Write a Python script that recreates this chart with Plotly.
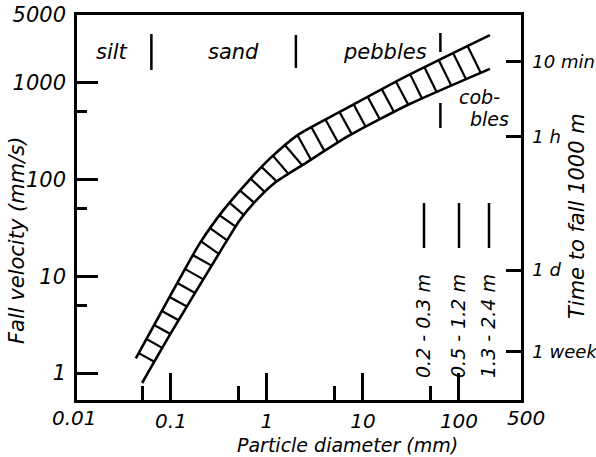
import numpy as np
import plotly.graph_objects as go

# ---------------- data ----------------
upper_diam_mm = [0.043, 0.1, 0.2, 0.35, 0.62, 1.07, 2.05, 6, 29, 210]
upper_vel_mm_s = [1.42, 6.5, 22, 48, 93, 164, 284, 510, 1180, 3100]
lower_diam_mm = [0.05, 0.1, 0.32, 0.52, 0.8, 1.2, 2.4, 7, 31, 210]
lower_vel_mm_s = [0.79, 2.6, 17.5, 38, 63, 92, 143, 280, 605, 1390]

class_names = ["silt", "sand", "pebbles"]
class_bounds_mm = [0.0625, 2, 64]

x_major = [0.1, 1, 10, 100]
x_major_text = ["0.1", "1", "10", "100"]
x_minor = [0.05, 0.5, 5, 50]
x_end_vals = [0.01, 500]
x_end_text = ["0.01", "500"]
y_major = [1, 10, 100, 1000, 5000]
y_major_text = ["1", "10", "100", "1000", "5000"]
y_minor = [5, 50, 500]

fall_distance_mm = 1.0e6
time_seconds = [604800, 86400, 3600, 600]
time_labels = ["1 week", "1 d", "1 h", "10 min"]

size_labels = ["0.2 - 0.3 m", "0.5 - 1.2 m", "1.3 - 2.4 m"]

# ---------------- layout geometry ----------------
W, H = 596, 457
L, R, T, B = 77, 75, 15, 57
PW, PH = W - L - R, H - T - B
XR = [-1.979, 2.646]
YR = [-0.278, np.log10(5000)]

FONT = "DejaVu Sans"
font = dict(family=FONT, size=21, color="black", style="italic")
font_x = dict(family=FONT, size=20, color="black", style="italic")
font_t = dict(family=FONT, size=19, color="black", style="italic")
font_r = dict(family=FONT, size=18, color="black", style="italic")
font_s = dict(family=FONT, size=19, color="black", style="italic")


def px(xp):  # pixel -> paper x
    return (xp - L) / PW


def py(yp):  # pixel -> paper y
    return (H - B - yp) / PH


def to_px(d, v):
    x = L + (np.log10(d) - XR[0]) * PW / (XR[1] - XR[0])
    y = T + (YR[1] - np.log10(v)) * PH / (YR[1] - YR[0])
    return np.array([x, y])


def from_px(p):
    ld = XR[0] + (p[0] - L) * (XR[1] - XR[0]) / PW
    lv = YR[1] - (p[1] - T) * (YR[1] - YR[0]) / PH
    return 10 ** ld, 10 ** lv


# ---------------- hatching between the two curves ----------------
up = np.array([to_px(d, v) for d, v in zip(upper_diam_mm, upper_vel_mm_s)])
lo = np.array([to_px(d, v) for d, v in zip(lower_diam_mm, lower_vel_mm_s)])

seg = np.diff(up, axis=0)
seglen = np.hypot(seg[:, 0], seg[:, 1])
cum = np.concatenate([[0], np.cumsum(seglen)])
spacing = 16.0
hx, hy = [], []
s = 6.0
while s < cum[-1] - 4:
    i = min(max(np.searchsorted(cum, s) - 1, 0), len(seg) - 1)
    t = (s - cum[i]) / seglen[i]
    P = up[i] + t * seg[i]
    tang = seg[i] / seglen[i]
    n = np.array([-tang[1], tang[0]])
    if n[0] < 0:
        n = -n
    best = None
    for j in range(len(lo) - 1):
        A, Bp = lo[j], lo[j + 1]
        M = np.array([[n[0], A[0] - Bp[0]], [n[1], A[1] - Bp[1]]])
        if abs(np.linalg.det(M)) < 1e-9:
            continue
        sol = np.linalg.solve(M, A - P)
        if 0 <= sol[1] <= 1 and sol[0] > 0:
            if best is None or sol[0] < best:
                best = sol[0]
    if best is not None:
        Q = P + best * n
        d1, v1 = from_px(P)
        d2, v2 = from_px(Q)
        hx += [d1, d2, None]
        hy += [v1, v2, None]
    s += spacing

fig = go.Figure()
fig.add_trace(go.Scatter(x=hx, y=hy, mode="lines", line=dict(color="black", width=2.2),
                         hoverinfo="skip"))
fig.add_trace(go.Scatter(x=upper_diam_mm, y=upper_vel_mm_s, mode="lines",
                         line=dict(color="black", width=2.6, shape="spline", smoothing=0.6)))
fig.add_trace(go.Scatter(x=lower_diam_mm, y=lower_vel_mm_s, mode="lines",
                         line=dict(color="black", width=2.6, shape="spline", smoothing=0.6)))
fig.add_trace(go.Scatter(x=[], y=[], yaxis="y2"))

ax_common = dict(showline=True, linecolor="black", linewidth=2.5, showgrid=False,
                 zeroline=False, tickcolor="black", tickwidth=2.5,
                 automargin=False)

fig.update_layout(
    width=W, height=H, margin=dict(l=L, r=R, t=T, b=B, autoexpand=False),
    plot_bgcolor="white", paper_bgcolor="white", showlegend=False,
    xaxis=dict(type="log", range=XR, mirror=True, ticks="inside", ticklen=27,
               tickmode="array", tickvals=x_major, ticktext=x_major_text,
               ticklabelstandoff=1, tickfont=font_x,
               minor=dict(tickmode="array", tickvals=x_minor, ticks="inside", ticklen=14,
                          tickwidth=2.5, tickcolor="black", showgrid=False),
               **ax_common),
    yaxis=dict(type="log", range=YR, ticks="inside", ticklen=21,
               tickmode="array", tickvals=y_major, ticktext=y_major_text,
               ticklabelstandoff=4, tickfont=font,
               minor=dict(tickmode="array", tickvals=y_minor, ticks="inside", ticklen=10,
                          tickwidth=2.5, tickcolor="black", showgrid=False),
               **ax_common),
    yaxis2=dict(type="log", range=YR, overlaying="y", side="right", anchor="x",
                ticks="inside", ticklen=15, tickmode="array",
                tickvals=[fall_distance_mm / t for t in time_seconds],
                ticktext=time_labels, ticklabelstandoff=5, tickfont=font_r,
                **ax_common),
)


def text_at(x, y, text, f=font, angle=0):
    return dict(x=x, y=y, xref="paper", yref="paper", text=text, showarrow=False,
                font=f, textangle=angle, xanchor="center", yanchor="middle")


ann = []
for v, tx in zip(x_end_vals, x_end_text):
    xpaper = (np.log10(v) - XR[0]) / (XR[1] - XR[0])
    ann.append(text_at(xpaper, py(418), tx, f=font_x))
ann.append(text_at(px(347), py(445), "Particle diameter (mm)", f=font_t))
ann.append(text_at(px(17), py(241), "Fall velocity (mm/s)", angle=-90))
ann.append(text_at(px(577), py(216), "Time to fall 1000 m", angle=-90))
for name, xp in zip(class_names, [112, 233, 385]):
    ann.append(text_at(px(xp), py(52), name))
ann.append(text_at(px(479), py(97), "cob-", f=font_s))
ann.append(text_at(px(489), py(119), "bles", f=font_s))
for lab, xp in zip(size_labels, [423, 458, 488]):
    ann.append(text_at(px(xp), py(326), lab, f=font_s, angle=-90))
fig.update_layout(annotations=ann)

shapes = []
for b, (y0, y1) in zip(class_bounds_mm, [(34, 70), (35, 68), (33, 52)]):
    shapes.append(dict(type="line", xref="x", yref="paper", x0=b, x1=b,
                       y0=py(y0), y1=py(y1), line=dict(color="black", width=2.5)))
shapes.append(dict(type="line", xref="x", yref="paper", x0=class_bounds_mm[2],
                   x1=class_bounds_mm[2], y0=py(103), y1=py(128),
                   line=dict(color="black", width=2.5)))
for xp in [424, 459, 489]:
    shapes.append(dict(type="line", xref="paper", yref="paper", x0=px(xp), x1=px(xp),
                       y0=py(203), y1=py(248), line=dict(color="black", width=2.5)))
fig.update_layout(shapes=shapes)

fig.write_html("out.html")
